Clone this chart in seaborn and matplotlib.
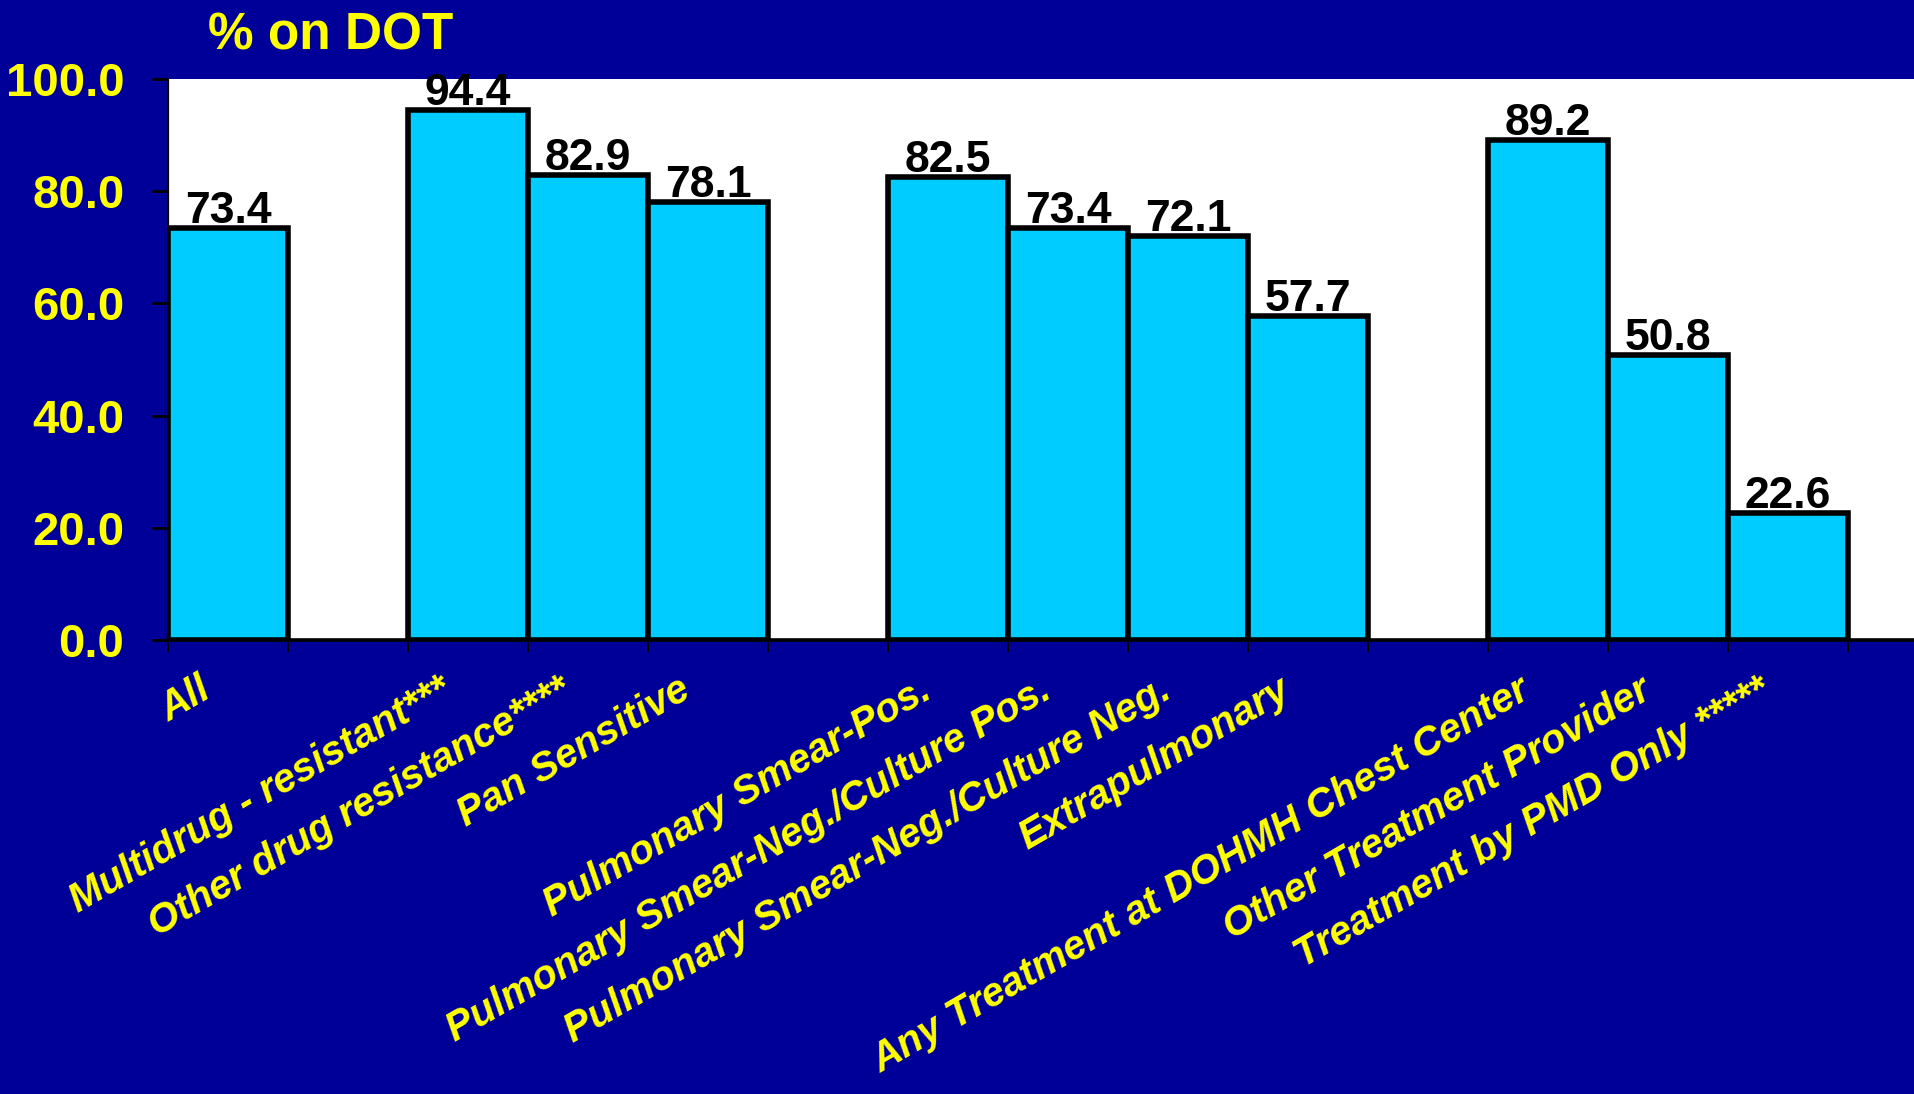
import numpy as np
import pandas as pd
import matplotlib
matplotlib.use("Agg")
import matplotlib.pyplot as plt
from matplotlib.transforms import ScaledTranslation
import seaborn as sns

# Percent of TB patients on directly observed therapy, by group
categories = [
    "All",
    "Multidrug - resistant***",
    "Other drug resistance****",
    "Pan Sensitive",
    "Pulmonary Smear-Pos.",
    "Pulmonary Smear-Neg./Culture Pos.",
    "Pulmonary Smear-Neg./Culture Neg.",
    "Extrapulmonary",
    "Any Treatment at DOHMH Chest Center",
    "Other Treatment Provider",
    "Treatment by PMD Only *****",
]
pct_on_dot = [73.4, 94.4, 82.9, 78.1, 82.5, 73.4, 72.1, 57.7, 89.2, 50.8, 22.6]

# Category order on the axis; blank slots separate the groups
slot_order = [
    "All", " ",
    "Multidrug - resistant***", "Other drug resistance****", "Pan Sensitive", "  ",
    "Pulmonary Smear-Pos.", "Pulmonary Smear-Neg./Culture Pos.",
    "Pulmonary Smear-Neg./Culture Neg.", "Extrapulmonary", "   ",
    "Any Treatment at DOHMH Chest Center", "Other Treatment Provider",
    "Treatment by PMD Only *****",
]
y_ticks = [0, 20, 40, 60, 80, 100]
y_tick_labels = ["0.0", "20.0", "40.0", "60.0", "80.0", "100.0"]
title_text = "% on DOT"

NAVY = "#000099"
CYAN = "#00CCFF"
YELLOW = "#FFFF00"

sns.set_theme(style="white")
plt.rcParams["font.family"] = ["Liberation Sans", "DejaVu Sans"]

W, H, DPI = 1915, 1094, 100
fig = plt.figure(figsize=(W / DPI, H / DPI), dpi=DPI, facecolor=NAVY)
left_px, top_px, base_px = 168, 79, 640
ax = fig.add_axes([left_px / W, 1 - base_px / H, 1 - left_px / W, (base_px - top_px) / H])
ax.set_facecolor("white")

df = pd.DataFrame({"category": categories, "pct": pct_on_dot})
sns.barplot(data=df, x="category", y="pct", order=slot_order, color=CYAN,
            saturation=1, width=1.0, edgecolor="black", linewidth=4,
            errorbar=None, ax=ax)

ax.set_xlabel("")
ax.set_ylabel("")

# Spines
for s in ["top", "right"]:
    ax.spines[s].set_visible(False)
ax.spines["left"].set_color("black")
ax.spines["left"].set_linewidth(1.6)
ax.spines["bottom"].set_color("black")
ax.spines["bottom"].set_linewidth(2.6)
ax.spines["bottom"].set_zorder(5)

# Y axis
ax.set_yticks(y_ticks)
ax.set_yticklabels(y_tick_labels)
ax.tick_params(axis="y", which="major", direction="out", length=11.5, width=2,
               color="black", pad=20, labelsize=34, labelcolor=YELLOW, left=True)
for lab in ax.get_yticklabels():
    lab.set_fontweight("bold")

# X axis: tick marks at slot boundaries, labels at slot centres
n_slots = 15
ax.set_xticks(np.arange(-0.5, n_slots, 1.0), minor=True)
ax.set_xticks(np.arange(len(slot_order)))
ax.set_xticklabels(slot_order)
ax.tick_params(axis="x", which="minor", direction="out", length=8.5, width=1.5,
               color="black", bottom=True)
ax.tick_params(axis="x", which="major", length=0, pad=22, labelsize=29,
               labelcolor=YELLOW, bottom=True)
shift = ScaledTranslation(-30 / DPI, 0, fig.dpi_scale_trans)
for lab in ax.get_xticklabels():
    lab.set_rotation(30)
    lab.set_ha("right")
    lab.set_va("top")
    lab.set_rotation_mode("anchor")
    lab.set_fontweight("bold")
    lab.set_fontstyle("italic")
    lab.set_transform(lab.get_transform() + shift)

# Limits last, so tick placement does not widen the view
slot_px = 120.0
ax.set_xlim(-0.5, -0.5 + (W - left_px) / slot_px)
ax.set_ylim(0, 100)

# Value labels above bars
for patch in ax.patches:
    h = patch.get_height()
    if np.isnan(h):
        continue
    xc = patch.get_x() + patch.get_width() / 2
    ax.annotate(f"{h:.1f}", (xc, h), xytext=(0, 3.6), textcoords="offset points",
                ha="center", va="baseline", fontsize=32, fontweight="bold",
                color="black", annotation_clip=False)

fig.text(331 / W, 1 - 50 / H, title_text, ha="center", va="baseline",
         fontsize=37, fontweight="bold", color=YELLOW)

fig.savefig("out.png", dpi=DPI, facecolor=NAVY)
